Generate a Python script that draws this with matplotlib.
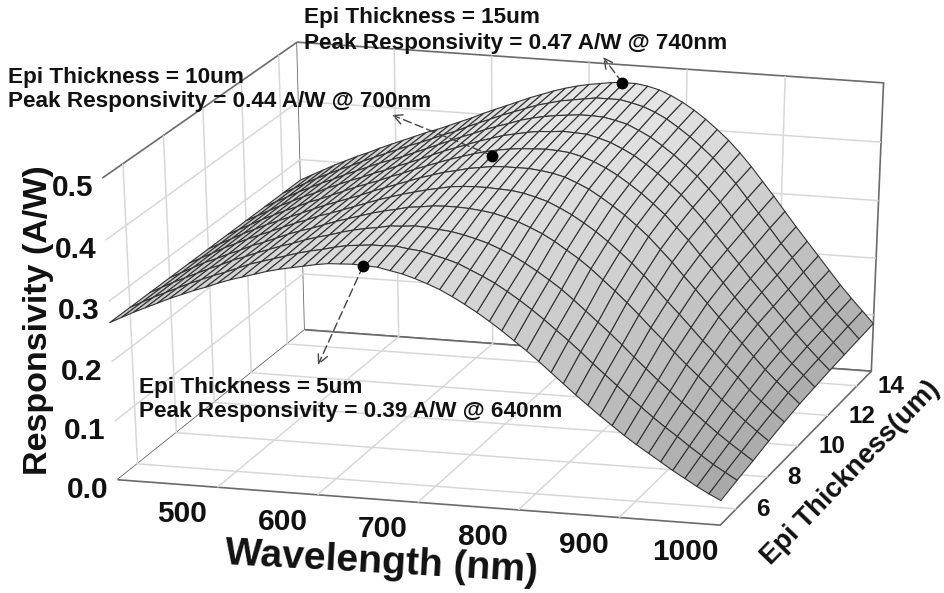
import numpy as np
import matplotlib
matplotlib.use("Agg")
import matplotlib.pyplot as plt
from matplotlib.colors import LinearSegmentedColormap

plt.rcParams['font.family'] = ['Liberation Sans', 'DejaVu Sans']
plt.rcParams['font.weight'] = 'bold'

wavelength = list(range(400, 1001, 12))
thickness = [5, 6, 7, 8, 9, 10, 11, 12, 13, 14, 15]

# one row per wavelength (400 to 1000 nm), one value per thickness (5 to 15 um)
responsivity_rows = [
    [.265, .265, .265, .265, .265, .265, .265, .265, .265, .265, .265],
    [.275, .275, .275, .275, .275, .275, .275, .275, .275, .275, .275],
    [.285, .285, .285, .285, .285, .285, .285, .285, .285, .285, .285],
    [.294, .294, .294, .295, .295, .295, .295, .295, .295, .295, .295],
    [.303, .303, .303, .303, .304, .304, .304, .304, .304, .304, .304],
    [.312, .312, .312, .312, .313, .313, .313, .313, .313, .313, .313],
    [.320, .320, .320, .320, .321, .321, .321, .321, .321, .321, .321],
    [.328, .328, .329, .329, .329, .329, .330, .330, .330, .330, .330],
    [.335, .335, .336, .336, .337, .337, .337, .338, .338, .338, .338],
    [.343, .343, .344, .344, .345, .345, .345, .346, .346, .346, .346],
    [.350, .351, .351, .352, .352, .353, .353, .353, .354, .354, .354],
    [.356, .357, .358, .359, .360, .360, .361, .361, .361, .362, .362],
    [.362, .363, .364, .365, .366, .367, .368, .368, .368, .369, .369],
    [.368, .369, .371, .372, .373, .374, .375, .376, .376, .377, .377],
    [.373, .375, .377, .379, .380, .382, .383, .383, .384, .385, .385],
    [.377, .380, .382, .385, .387, .389, .390, .391, .392, .392, .393],
    [.381, .384, .388, .391, .394, .396, .398, .399, .400, .401, .402],
    [.385, .389, .393, .397, .400, .403, .405, .407, .408, .409, .410],
    [.388, .393, .397, .402, .406, .410, .412, .414, .415, .417, .418],
    [.389, .395, .400, .406, .411, .416, .419, .421, .423, .425, .426],
    [.390, .397, .404, .411, .416, .422, .425, .428, .430, .432, .434],
    [.389, .397, .405, .413, .420, .426, .431, .434, .436, .439, .441],
    [.388, .398, .407, .416, .424, .431, .436, .440, .443, .446, .448],
    [.384, .395, .406, .417, .426, .434, .440, .444, .448, .451, .454],
    [.380, .393, .404, .417, .427, .437, .443, .448, .452, .456, .459],
    [.374, .388, .402, .416, .427, .438, .445, .451, .455, .459, .463],
    [.367, .383, .398, .414, .426, .438, .446, .452, .457, .462, .466],
    [.359, .377, .393, .411, .425, .438, .447, .454, .459, .465, .469],
    [.349, .368, .387, .406, .422, .436, .446, .453, .459, .465, .470],
    [.338, .359, .379, .400, .417, .433, .444, .452, .458, .465, .470],
    [.326, .349, .370, .392, .411, .428, .439, .447, .454, .461, .467],
    [.313, .337, .359, .383, .402, .420, .432, .441, .449, .456, .462],
    [.299, .324, .347, .372, .392, .411, .423, .432, .440, .448, .454],
    [.284, .310, .334, .359, .380, .399, .412, .422, .430, .438, .444],
    [.269, .295, .320, .346, .367, .386, .399, .409, .417, .425, .432],
    [.253, .279, .304, .331, .352, .372, .385, .395, .403, .411, .418],
    [.236, .263, .287, .314, .336, .356, .369, .379, .387, .395, .402],
    [.219, .246, .270, .297, .319, .339, .352, .362, .370, .378, .385],
    [.202, .228, .253, .279, .300, .319, .332, .342, .350, .358, .365],
    [.186, .211, .235, .260, .280, .299, .312, .321, .329, .337, .343],
    [.170, .194, .216, .240, .259, .277, .289, .298, .306, .313, .319],
    [.155, .177, .198, .221, .239, .256, .267, .275, .282, .289, .295],
    [.140, .161, .180, .201, .218, .234, .244, .252, .258, .265, .270],
    [.126, .145, .163, .182, .197, .212, .221, .228, .234, .240, .245],
    [.113, .130, .146, .164, .178, .191, .199, .206, .211, .217, .221],
    [.100, .116, .130, .146, .158, .170, .178, .183, .188, .193, .197],
    [.087, .101, .114, .127, .139, .149, .156, .161, .165, .170, .173],
    [.075, .087, .098, .110, .119, .128, .134, .139, .142, .146, .149],
    [.063, .073, .083, .093, .101, .109, .114, .118, .121, .124, .127],
    [.052, .061, .069, .077, .084, .091, .095, .098, .101, .104, .106],
    [.042, .049, .055, .062, .068, .073, .076, .079, .081, .083, .085],
]

# the dots as they sit in the picture
peak_wl = [650, 688, 734]
peak_th = [5, 10, 15]
peak_resp = [.388, .455, .47]

x_ticks = [500, 600, 700, 800, 900, 1000]
y_ticks = [6, 8, 10, 12, 14]
z_ticks = [0.0, 0.1, 0.2, 0.3, 0.4, 0.5]

# box corners and where they sit in the picture, used to straighten the view
box_corners = np.array([[400, 5, 0], [1000, 5, 0], [1000, 15, 0], [400, 15, 0], [400, 5, .5], [400, 15, .5], [1000, 15, .5]], float)
box_pixels = np.array([[118, 479], [722, 528], [868, 370], [306, 327], [100, 179], [298, 44], [885, 82]], float)

FIG_W, FIG_H = 945, 593
L, B, W_AX, H_AX = 54.12, -131.12, 872.68, 872.68

fig = plt.figure(figsize=(FIG_W / 100, FIG_H / 100), dpi=100)
ax = fig.add_axes([L / FIG_W, B / FIG_H, W_AX / FIG_W, H_AX / FIG_H], projection='3d', computed_zorder=False)
ax.set_xlim(400, 1000, view_margin=0)
ax.set_ylim(5, 15, view_margin=0)
ax.set_zlim(0, .5, view_margin=0)
ax.set_proj_type('persp', focal_length=1.5241)
ax.view_init(elev=15.219, azim=-72.543, roll=0.577)
ax.set_box_aspect((2.0297, 1.8736, 1.0))


def to_view(px):
    # picture pixels (y down) to the 2d coordinates the 3d projection ends in
    xl = ax.viewLim.intervalx
    yl = ax.viewLim.intervaly
    u = xl[0] + (px[:, 0] - L) / W_AX * (xl[1] - xl[0])
    v = yl[0] + (FIG_H - px[:, 1] - B) / H_AX * (yl[1] - yl[0])
    return np.c_[u, v]


base_proj = ax.get_proj
M0 = base_proj()
h0 = np.c_[box_corners, np.ones(len(box_corners))] @ M0.T
uv = h0[:, :2] / h0[:, 3:4]
st = to_view(box_pixels)
rows, rhs = [], []
for (u, v), (s, t) in zip(uv, st):
    rows.append([u, v, 1, 0, 0, 0, -s * u, -s * v])
    rows.append([0, 0, 0, u, v, 1, -t * u, -t * v])
    rhs += [s, t]
h = np.linalg.lstsq(np.array(rows), np.array(rhs), rcond=None)[0]
warp = np.array([[h[0], h[1], 0, h[2]], [h[3], h[4], 0, h[5]], [0, 0, 1, 0], [h[6], h[7], 0, 1]])
ax.get_proj = lambda: warp @ base_proj()

for axis in (ax.xaxis, ax.yaxis, ax.zaxis):
    axis.pane.set_facecolor('white')
    axis.pane.set_edgecolor('#6a6a6a')
    axis.pane.set_alpha(1)
    axis.pane.set_linewidth(1.2)
    axis.line.set_linewidth(0)
    axis._axinfo['grid'].update(color='#d8d8d8', linewidth=1.1)
    axis._axinfo['tick'].update(inward_factor=0, outward_factor=0)
ax.set_xticks(x_ticks[:-1])
ax.set_yticks(y_ticks)
ax.set_zticks(z_ticks[1:-1])
ax.set_xticklabels([])
ax.set_yticklabels([])
ax.set_zticklabels([])

T, WL = np.meshgrid(thickness, wavelength, indexing='ij')
Z = np.array(responsivity_rows).T
gray_map = LinearSegmentedColormap.from_list('grays', ['#a8a8a8', '#e6e6e6'])
ax.plot_surface(WL, T, Z, rstride=1, cstride=1, cmap=gray_map, vmin=.04, vmax=.47,
                edgecolor='#333333', linewidth=.8, shade=False, zorder=1)
ax.plot(peak_wl, peak_th, peak_resp, 'o', color='k', ms=8.5, mew=0, zorder=5)


def view_xy(x, y, z):
    p = ax.get_proj() @ np.array([x, y, z, 1.0])
    return p[0] / p[3], p[1] / p[3]


def tick_label(x, y, z, text, dx, dy, **kw):
    ax.annotate(text, xy=view_xy(x, y, z), xycoords='data', xytext=(dx, dy), textcoords='offset pixels',
                annotation_clip=False, color='#111111', **kw)


for v in x_ticks:
    tick_label(v, 5, 0, str(v), -35, -27, ha='center', va='center', fontsize=21.5)
for v in y_ticks:
    tick_label(1000, v, 0, str(v), 20, -1, ha='left', va='center', fontsize=17.5)
for v in z_ticks:
    tick_label(400, 5, v, '%.1f' % v, -9, -10, ha='right', va='center', fontsize=21.5)


def pix_text(x, y, text, **kw):
    fig.text(x / FIG_W, 1 - y / FIG_H, text, color='#111111', **kw)


pix_text(381, 563, 'Wavelength (nm)', fontsize=28.2, rotation=-3.2, ha='center', va='center', rotation_mode='anchor')
pix_text(39, 320, 'Responsivity (A/W)', fontsize=24.5, rotation=90, ha='center', va='center', rotation_mode='anchor')
pix_text(851, 473, 'Epi Thickness(um)', fontsize=19.8, rotation=46, ha='center', va='center', rotation_mode='anchor')

pix_text(304, 18, 'Epi Thickness = 15um', fontsize=16.2, va='center')
pix_text(304, 43, 'Peak Responsivity = 0.47 A/W @ 740nm', fontsize=16.2, va='center')
pix_text(8, 77, 'Epi Thickness = 10um', fontsize=16.2, va='center')
pix_text(8, 102, 'Peak Responsivity = 0.44 A/W @ 700nm', fontsize=16.2, va='center')
pix_text(139, 387, 'Epi Thickness = 5um', fontsize=16.2, va='center')
pix_text(139, 412, 'Peak Responsivity = 0.39 A/W @ 640nm', fontsize=16.2, va='center')

arrow_ends = [(318, 365), (392, 115), (603, 57)]
for wl, th, r, end in zip(peak_wl, peak_th, peak_resp, arrow_ends):
    ax.annotate('', xy=(end[0], FIG_H - end[1]), xycoords='figure pixels', xytext=view_xy(wl, th, r), textcoords='data',
                arrowprops=dict(arrowstyle='->', linestyle=(0, (6, 3)), color='#444444', lw=1, mutation_scale=18, shrinkA=0, shrinkB=0))

fig.savefig('out.png', dpi=100)
